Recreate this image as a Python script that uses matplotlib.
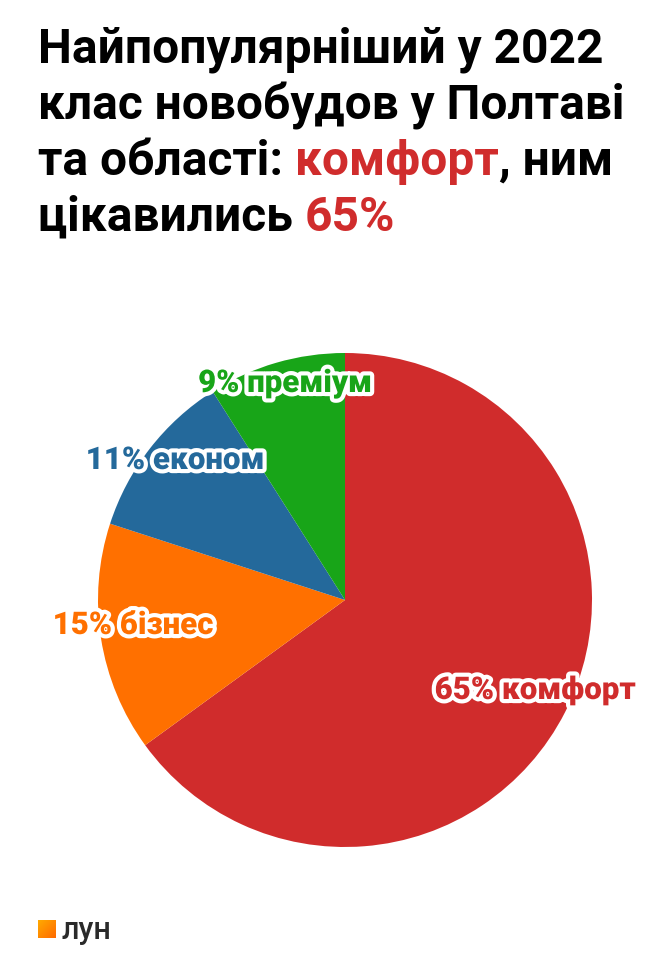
import matplotlib.pyplot as plt
import matplotlib.patheffects as pe
import numpy as np

labels = ["комфорт", "бізнес", "економ", "преміум"]
values = [65, 15, 11, 9]
colors = ["#d02c2c", "#ff7000", "#24699b", "#18a518"]

# label text positions in figure pixels (from top-left)
label_pos = [(535, 690), (133, 625), (175, 460), (285, 383)]

W, H = 662, 980
fig = plt.figure(figsize=(W / 100, H / 100), dpi=100)
plt.rcParams['font.family'] = ['Roboto', 'DejaVu Sans']

# pie
cx, cy, r = 345, 600, 247
ax = fig.add_axes([(cx - r) / W, 1 - (cy + r) / H, 2 * r / W, 2 * r / H])
ax.pie(values, colors=colors, startangle=90, counterclock=False,
       wedgeprops=dict(linewidth=0))
ax.set_aspect('equal')
ax.set_xlim(-1, 1)
ax.set_ylim(-1, 1)

for lab, v, c, (px, py) in zip(labels, values, colors, label_pos):
    fig.text(px / W, 1 - py / H, f"{v}% {lab}", color=c, fontsize=22.5,
             fontweight='heavy', ha='center', va='center',
             path_effects=[pe.withStroke(linewidth=6, foreground='white')])

# title with coloured parts
title_lines = [
    [("Найпопулярніший у 2022", "black")],
    [("клас новобудов у Полтаві", "black")],
    [("та області: ", "black"), ("комфорт", colors[0]), (", ним", "black")],
    [("цікавились ", "black"), (f"{values[0]}%", colors[0])],
]
renderer = fig.canvas.get_renderer()
y0 = 50
for i, parts in enumerate(title_lines):
    x = 38
    for s, c in parts:
        t = fig.text(x / W, 1 - (y0 + i * 56) / H, s, color=c, fontsize=34.5,
                     fontweight='bold', ha='left', va='center')
        bb = t.get_window_extent(renderer)
        x += bb.width

# logo
lax = fig.add_axes([38 / W, 1 - 938 / H, 18 / W, 18 / H])
grad = np.linspace(0, 1, 50)
g = np.add.outer(grad, grad) / 2
lax.imshow(g, cmap=plt.matplotlib.colors.LinearSegmentedColormap.from_list(
    "l", ["#ffaa00", "#ff6a00"]), extent=[0, 1, 0, 1])
lax.axis('off')
fig.text(62 / W, 1 - 930 / H, "лун", color="#2a2a2a", fontsize=22,
         fontweight='medium', ha='left', va='center')

fig.savefig("out.png", dpi=100)
